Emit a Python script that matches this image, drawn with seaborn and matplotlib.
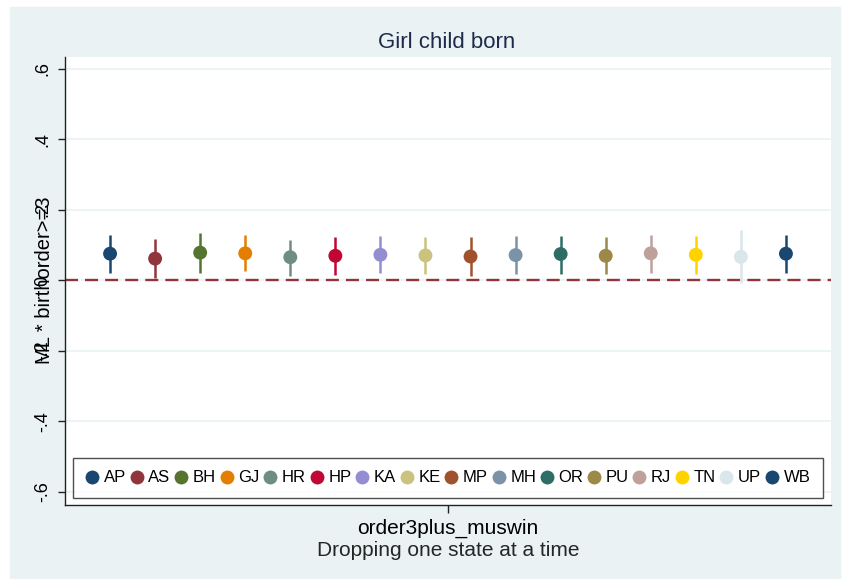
import numpy as np
import pandas as pd
import matplotlib
matplotlib.use("Agg")
import matplotlib.pyplot as plt
import seaborn as sns
from matplotlib.patches import Rectangle

# Coefficients and 95% CIs, dropping one state at a time
states = ["AP", "AS", "BH", "GJ", "HR", "HP", "KA", "KE",
          "MP", "MH", "OR", "PU", "RJ", "TN", "UP", "WB"]
coef = [0.076, 0.062, 0.079, 0.077, 0.066, 0.070, 0.073, 0.071,
        0.068, 0.072, 0.075, 0.070, 0.077, 0.073, 0.067, 0.076]
ci_lo = [0.022, 0.006, 0.022, 0.026, 0.012, 0.015, 0.020, 0.017,
         0.012, 0.019, 0.019, 0.017, 0.022, 0.019, -0.007, 0.022]
ci_hi = [0.128, 0.119, 0.135, 0.130, 0.116, 0.123, 0.127, 0.123,
         0.123, 0.126, 0.127, 0.123, 0.130, 0.126, 0.142, 0.130]
yticks = [-0.6, -0.4, -0.2, 0, 0.2, 0.4, 0.6]
ytick_labels = ["-.6", "-.4", "-.2", "0", ".2", ".4", ".6"]
coef_name = "order3plus_muswin"

# Stata s2color palette
palette = ["#1a476f", "#90353b", "#55752f", "#e37e00", "#6e8e84", "#c10534",
           "#938dd2", "#cac27e", "#a0522d", "#7b92a8", "#2d6d66", "#9c8847",
           "#bfa19c", "#ffd200", "#d9e6eb", "#1a476f"]
bg = "#eaf2f3"

df = pd.DataFrame({"state": states, "coef": coef, "lo": ci_lo, "hi": ci_hi})
df["pos"] = np.arange(len(df)) - (len(df) - 1) / 2

sns.set_style("white")
plt.rcParams["font.family"] = ["Liberation Sans", "DejaVu Sans"]
plt.rcParams["text.color"] = "black"
plt.rcParams["xtick.color"] = "black"
plt.rcParams["ytick.color"] = "black"

fig = plt.figure(figsize=(8.43, 5.79), dpi=100)
fig.patches.append(Rectangle((10 / 843, 0), 830 / 843, 1 - 7 / 579,
                             transform=fig.transFigure, color=bg, zorder=-10))
ax = fig.add_axes([65 / 843, 1 - 505 / 579, 766 / 843, 448 / 579])
ax.set_facecolor("white")

for y in yticks:
    ax.axhline(y, color=bg, lw=1.2, zorder=0)
ax.axhline(0, color="#90353b", lw=1.7, linestyle=(0, (5.5, 3)), zorder=1)

for i, r in df.iterrows():
    ax.vlines(r["pos"], r["lo"], r["hi"], color=palette[i], lw=1.8, zorder=2)
sns.scatterplot(data=df, x="pos", y="coef", hue="state", palette=palette,
                s=100, edgecolor="none", ax=ax, zorder=3, legend=True)

ax.set_xlim(-8.5, 8.5)
ax.set_ylim(-0.637, 0.634)
ax.set_yticks(yticks)
ax.set_yticklabels(ytick_labels, rotation=90, va="center", fontsize=13)
ax.set_xticks([0])
ax.set_xticklabels([coef_name], fontsize=15)
ax.tick_params(axis="y", length=5, width=1, pad=5, color="#222222", left=True)
ax.tick_params(axis="x", length=6, width=1, pad=4, color="#222222", bottom=True)
ax.set_xlabel("Dropping one state at a time", fontsize=15, labelpad=2)
ax.set_ylabel("")

for s in ["top", "right"]:
    ax.spines[s].set_visible(False)
for s in ["left", "bottom"]:
    ax.spines[s].set_color("#222222")
    ax.spines[s].set_linewidth(1)

fig.text(447 / 843, 1 - 42 / 579, "Girl child born", ha="center", va="center",
         fontsize=16, color="#1c2b4b")
fig.text(45 / 843, 1 - 280 / 579, "ML * birthorder>=3", rotation=90,
         ha="center", va="center", fontsize=14.5)

leg = ax.legend(loc="center", bbox_to_anchor=(0.5, 0.0603),
                ncol=16, frameon=True, fontsize=12,
                handlelength=0.8, handletextpad=0.3, columnspacing=0.24,
                borderaxespad=0, borderpad=0.75, markerscale=1.0, title=None)
leg.get_frame().set_edgecolor("#222222")
leg.get_frame().set_linewidth(1)
leg.get_frame().set_boxstyle("square", pad=0)

fig.savefig("out.png", dpi=100)
